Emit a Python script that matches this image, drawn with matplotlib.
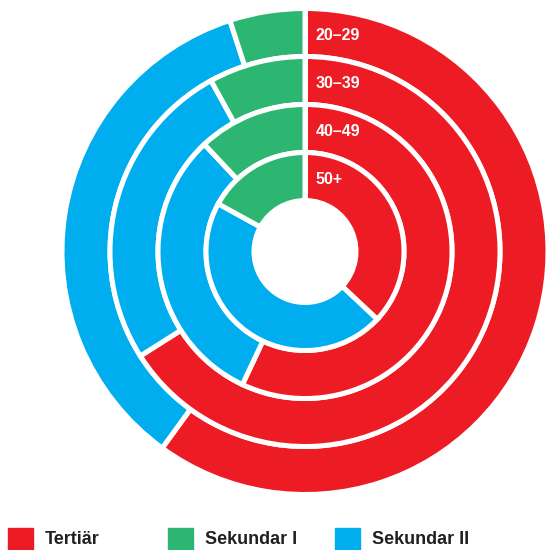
import numpy as np
import matplotlib
matplotlib.use("Agg")
import matplotlib.pyplot as plt
from matplotlib.patches import Rectangle

plt.rcParams["font.family"] = ["Liberation Sans", "DejaVu Sans"]

# age groups, outer ring first
age_groups = ["20–29", "30–39", "40–49", "50+"]
categories = ["Tertiär", "Sekundar II", "Sekundar I"]

# shares in percent, clockwise from the top
tertiar = [60, 66, 57, 37]
sekundar_2 = [35, 26, 31, 46]
sekundar_1 = [5, 8, 12, 17]

colors = {"Tertiär": "#ED1C24", "Sekundar I": "#2DB572", "Sekundar II": "#00AEEF"}
legend_order = ["Tertiär", "Sekundar I", "Sekundar II"]

W, H = 546, 550
fig = plt.figure(figsize=(W / 100, H / 100), dpi=100)
ax = fig.add_axes([0, 0, 1, 1])

cx, cy = 305, H - 251.5
r_outer = 243
step = 48
lw = 3.6

for i, grp in enumerate(age_groups):
    vals = [tertiar[i], sekundar_2[i], sekundar_1[i]]
    r = r_outer - i * step
    ax.pie(
        vals,
        radius=r,
        center=(cx, cy),
        startangle=90,
        counterclock=False,
        colors=[colors[c] for c in categories],
        wedgeprops=dict(width=step, edgecolor="white", linewidth=lw),
    )
    ax.text(cx + 11, cy + r - step / 2 - 3, grp, color="white",
            fontsize=11.5, fontweight="bold", ha="left", va="center")

# white divider along the top
ax.plot([cx, cx], [cy + r_outer - 4 * step, cy + r_outer], color="white", lw=lw)

ax.set_xlim(0, W)
ax.set_ylim(0, H)
ax.set_aspect("equal")
ax.axis("off")

# legend
leg_x = [8, 168, 335]
for x0, lab in zip(leg_x, legend_order):
    fig.add_artist(Rectangle((x0 / W, (H - 550) / H), 25 / W, 22 / H,
                             transform=fig.transFigure, color=colors[lab]))
    fig.text((x0 + 37) / W, (H - 539) / H, lab, fontsize=13, fontweight="bold",
             color="#231F20", ha="left", va="center")

fig.savefig("out.png", dpi=100)
